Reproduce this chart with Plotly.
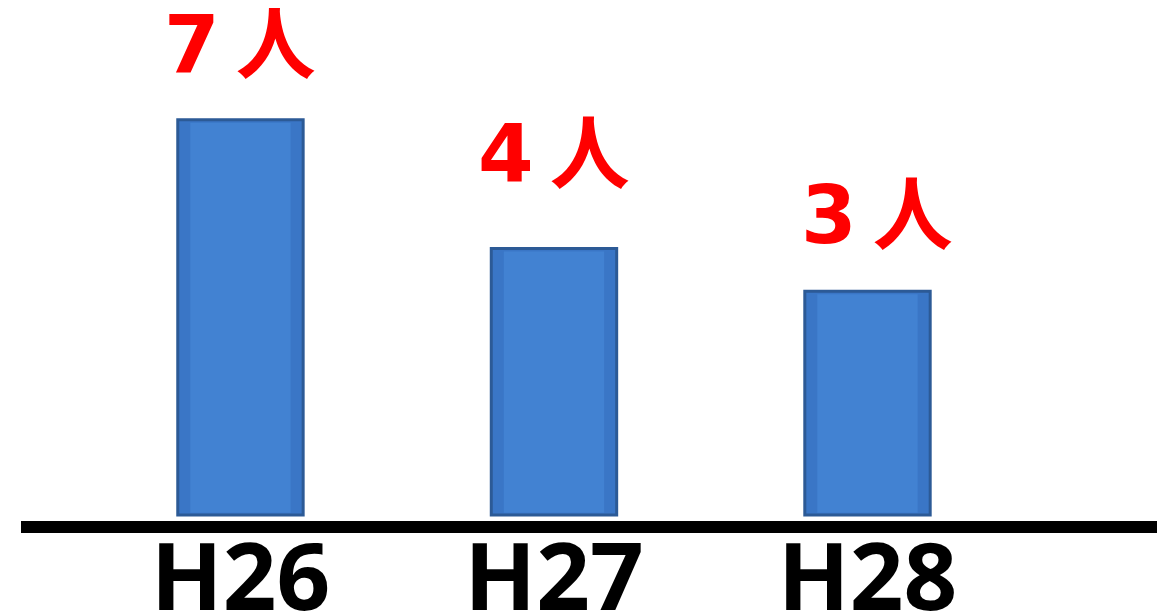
import plotly.graph_objects as go

categories = ["H26", "H27", "H28"]
values = [7, 4, 3]
value_labels = ["7\u2009人", "4\u2009人", "3\u2009人"]

BAR_BASE = -2.22
label_shifts = [27, 45, 27]
label_xshifts = [0, 0, 10]

fig = go.Figure()
fig.add_trace(go.Bar(
    x=categories,
    y=[v - BAR_BASE for v in values],
    base=BAR_BASE,
    width=0.4,
    marker=dict(color="#3A76C6", line=dict(color="#2C5A96", width=3)),
    hoverinfo="skip",
))
fig.add_trace(go.Bar(
    x=categories,
    y=[v - BAR_BASE - 0.12 for v in values],
    base=BAR_BASE + 0.05,
    width=0.32,
    marker=dict(color="#4282D2", line=dict(width=0)),
    hoverinfo="skip",
))

for c, v, t, s, xs in zip(categories, values, value_labels, label_shifts, label_xshifts):
    fig.add_annotation(
        x=c, y=v, text=t, showarrow=False, yanchor="bottom", yshift=s, xshift=xs,
        font=dict(family="DejaVu Sans, Noto Sans CJK JP", size=80, color="#FF0000", weight="bold"),
    )

fig.update_layout(
    width=1165, height=611,
    margin=dict(l=13, r=13, t=0, b=98),
    paper_bgcolor="white", plot_bgcolor="white",
    showlegend=False,
    barmode="overlay",
    xaxis=dict(
        range=[-0.70, 2.933],
        automargin=False,
        showline=True, linecolor="black", linewidth=12,
        showgrid=False, zeroline=False, ticks="",
        tickfont=dict(family="Noto Sans", size=94, color="black", weight="bold"),
        ticklabelstandoff=-36,
    ),
    yaxis=dict(
        range=[-2.36, 9.61], visible=False, showgrid=False, zeroline=False,
        automargin=False,
    ),
)

fig.write_html("out.html")
